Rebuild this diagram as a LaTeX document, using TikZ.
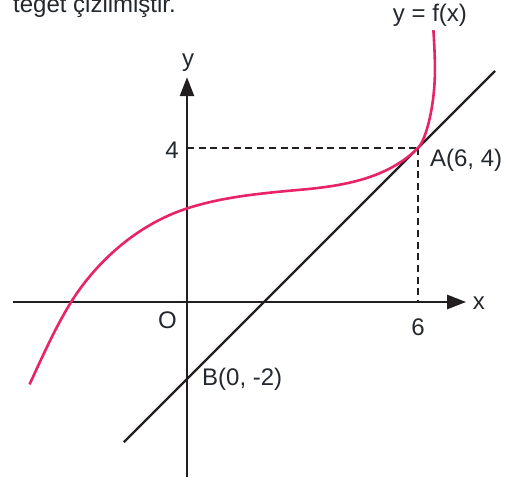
\documentclass[tikz,border=0pt]{standalone}
\usepackage{fontspec}
\setmainfont{Liberation Sans}
\usetikzlibrary{arrows.meta}
\definecolor{curvecol}{RGB}{232,35,105}
\definecolor{inkcol}{RGB}{35,31,32}
\definecolor{textcol}{RGB}{35,40,46}
\tikzset{
  axis/.style={line width=2.6pt, draw=inkcol, -{Triangle[length=19pt,width=14pt]}},
  tangent/.style={line width=2.3pt, draw=inkcol},
  guide/.style={line width=2.3pt, draw=inkcol, dash pattern=on 7pt off 4.7pt},
  graph/.style={line width=2.6pt, draw=curvecol},
  lbl/.style={text=textcol, inner sep=0pt, font=\fontsize{24}{28}\selectfont}
}
\begin{document}
\begin{tikzpicture}[x=38.5pt,y=38.5pt]
\useasboundingbox (-4.857,-4.727) rectangle (8.286,7.844);
% coordinates
\coordinate (O) at (0,0);
\coordinate (xs) at (-4.52,0);
\coordinate (xe) at (7.25,0);
\coordinate (ys) at (0,-4.55);
\coordinate (ye) at (0,5.84);
\coordinate (A) at (6,4);
\coordinate (B) at (0,-2);
\coordinate (T1) at (-1.64,-3.64);
\coordinate (T2) at (8,6);
\coordinate (Y4) at (0,4);
\coordinate (X6) at (6,0);
\coordinate (C0) at (-4.09,-2.14);
\coordinate (C1) at (-3.01,0);
\coordinate (C2) at (0,2.43);
\coordinate (C3) at (3,2.92);
\coordinate (C4) at (6.44,6.03);
\coordinate (C5) at (6.4,7.06);
% guides
\draw[guide] (Y4) -- (A);
\draw[guide] (A) -- (X6);
% axes
\draw[axis] (xs) -- (xe);
\draw[axis] (ys) -- (ye);
% tangent line
\draw[tangent] (T1) -- (T2);
% curve
\draw[graph] (C0) .. controls (-3.75,-1.41) and (-3.43,-0.68) .. (C1)
  .. controls (-2.32,1.10) and (-1.24,2.03) .. (C2)
  .. controls (0.95,2.74) and (2.0,2.83) .. (C3)
  .. controls (4.1,3.02) and (5.22,3.22) .. (A)
  .. controls (6.21,4.21) and (6.44,5.1) .. (C4)
  .. controls (6.44,6.4) and (6.42,6.75) .. (C5);
% labels
\node[lbl] (ylab) at (0.03,6.21) {y};
\node[lbl] (xlab) at (7.58,-0.03) {x};
\node[lbl] (four) at (-0.39,3.935) {4};
\node[lbl] (olab) at (-0.506,-0.48) {O};
\node[lbl] (six) at (6,-0.65) {6};
\node[lbl, anchor=west] (alab) at (6.31,3.69) {A(6, 4)};
\node[lbl, anchor=west] (blab) at (0.39,-2.0) {B(0, -2)};
\node[lbl] (flab) at (6.31,7.455) {y = f(x)};
\node[lbl, anchor=base west] (title) at (-4.52,7.514) {teğet çizilmiştir.};
\end{tikzpicture}
\end{document}
